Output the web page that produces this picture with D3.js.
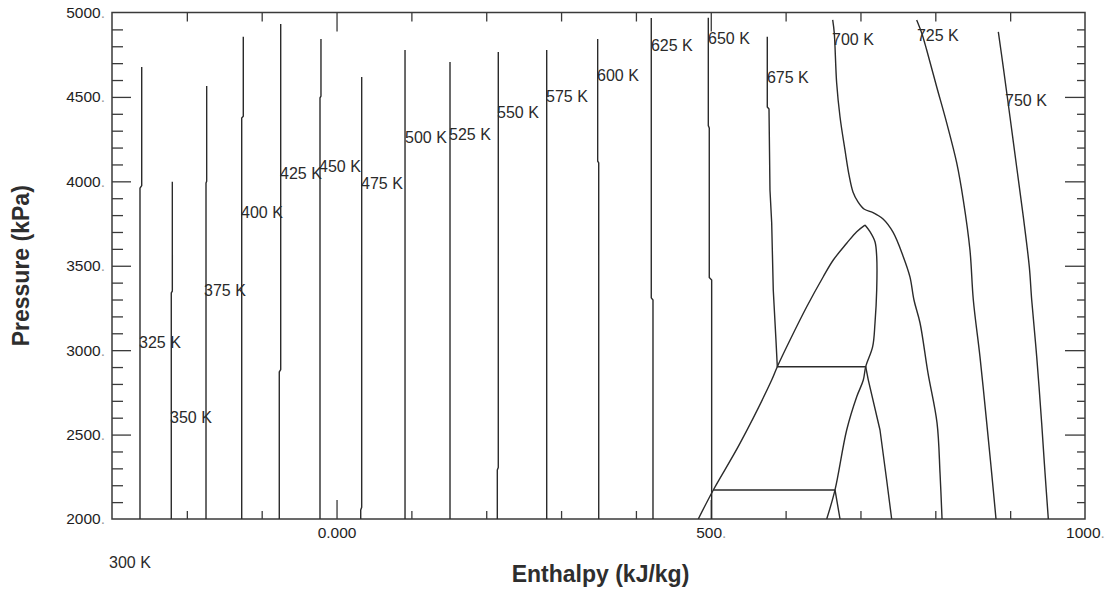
<!DOCTYPE html>
<html>
<head>
<meta charset="utf-8">
<script src="https://cdn.jsdelivr.net/npm/d3@7"></script>
<style>
  body { margin: 0; background: #fff; }
  svg { display: block; }
  text { font-family: "Liberation Sans", Arial, Helvetica, sans-serif; }
</style>
</head>
<body>
<svg id="chart" width="1113" height="592"></svg>
<script>
// ---- axes ----
const enthalpyDomain = [-300, 1000];
const pressureDomain = [2000, 5000];
const xTickValues = [0, 500, 1000];
const xTickLabels = ["0.000", "500.", "1000."];
const yTickValues = [2500, 3000, 3500, 4000, 4500, 5000, 2000];
const yTickLabels = ["2500.", "3000.", "3500.", "4000.", "4500.", "5000.", "2000."];

// ---- isotherms: [enthalpy kJ/kg, pressure kPa] ----
const t325 = [[-262.6, 2000], [-262.6, 3960], [-260.3, 3975], [-260.3, 4677]];
const t350 = [[-220.8, 2000], [-220.8, 3339], [-219.4, 3350], [-219.4, 3998]];
const t375 = [[-174.4, 2000], [-174.4, 3990], [-173.5, 4000], [-173.5, 4565]];
const t400 = [[-126.7, 2000], [-126.7, 4375], [-124.6, 4385], [-124.6, 4857]];
const t425 = [[-76.5, 2000], [-76.5, 2871], [-74.6, 2885], [-74.6, 4932]];
const t450 = [[-22.1, 2000], [-22.1, 4494], [-20.8, 4505], [-20.8, 4843]];
const t475 = [[32.3, 2000], [32.3, 2053], [33.6, 2070], [33.6, 4618]];
const t500 = [[91.5, 2000], [91.5, 4778]];
const t525 = [[151.6, 2000], [151.6, 4707]];
const t550 = [[214.8, 2000], [214.8, 2290], [216.1, 2305], [216.1, 4766]];
const t575 = [[280.8, 2000], [280.8, 4778]];
const t600 = [[350.3, 2000], [350.3, 4109], [348.9, 4120], [348.9, 4843]];
const t625 = [[422.8, 2000], [422.8, 3297], [420.5, 3310], [420.5, 4967]];
const t650 = [[501.2, 2000], [501.2, 3416], [498.0, 3430], [498.0, 4316], [496.7, 4330], [496.7, 4969]];
const t650TwoPhase = [[503.4, 2172], [666.0, 2172], [672.7, 2000]];
const t675 = [[575.5, 4857], [575.5, 4440], [577.8, 4428], [579.1, 3949], [581.4, 3753], [583.5, 3356],
              [587.1, 3060], [588.9, 2902], [707.0, 2902], [710.5, 2823], [726.1, 2527], [735.0, 2231], [741.7, 2000]];
const t700 = [[662.9, 4956], [665.0, 4879], [668.2, 4582], [672.7, 4381], [679.3, 4186], [684.7, 4038],
              [690.0, 3937], [696.7, 3878], [704.7, 3836], [716.8, 3815], [730.2, 3777], [743.5, 3699],
              [757.2, 3554], [766.2, 3433], [771.5, 3297], [779.6, 3161], [790.2, 2865], [802.3, 2569],
              [806.3, 2272], [809.0, 2000]];
const t725 = [[775.1, 4956], [781.8, 4879], [788.5, 4778], [801.9, 4559], [815.2, 4346], [828.6, 4109],
              [837.4, 3889], [846.3, 3593], [850.8, 3297], [859.7, 2960], [868.7, 2569], [875.3, 2272], [881.1, 2000]];
const t750 = [[884.2, 4885], [890.8, 4677], [899.8, 4381], [908.7, 4085], [917.6, 3789], [925.6, 3493],
              [928.8, 3297], [935.5, 2960], [942.1, 2569], [946.6, 2272], [951.0, 2000]];

// ---- saturation envelope ----
const bubbleCurve = [[483.3, 2000], [503.4, 2172], [539.0, 2448], [581.4, 2823], [588.9, 2902], [605.9, 3060],
                     [628.2, 3257], [650.3, 3435], [663.7, 3534], [681.6, 3633], [695.0, 3702], [706.0, 3741]];
const dewCurve = [[706.0, 3741], [712.7, 3702], [719.4, 3642], [721.7, 3554], [721.7, 3356], [719.4, 3159],
                  [716.3, 3021], [707.0, 2902], [703.8, 2823], [695.0, 2724], [681.6, 2527], [666.0, 2172], [654.9, 2000]];

// ---- isotherm labels (left edge of text, baseline) ----
const isoLabels = ["300 K", "325 K", "350 K", "375 K", "400 K", "425 K", "450 K", "475 K", "500 K", "525 K",
                   "550 K", "575 K", "600 K", "625 K", "650 K", "675 K", "700 K", "725 K", "750 K"];
const labelH = [-304, -263.9, -222.5, -177, -127.6, -75.5, -23.4, 32.7, 91.5, 150.3,
                214.4, 279.9, 348, 420.1, 496.3, 575.1, 662, 775.5, 893.1];
const labelP = [1710, 3013, 2569, 3321, 3783, 4014, 4055, 3955, 4227, 4245,
                4375, 4470, 4594, 4772, 4813, 4582, 4807, 4831, 4446];

const straightPaths = [t325, t350, t375, t400, t425, t450, t475, t500, t525, t550, t575,
                       t600, t625, t650, t650TwoPhase, t675];
const smoothPaths = [t700, t725, t750, bubbleCurve, dewCurve];

// ---- layout ----
const plot = { left: 112, right: 1085, top: 12.5, bottom: 519 };
const ink = "#2b2b2b";

const svg = d3.select("#chart");
const x = d3.scaleLinear().domain(enthalpyDomain).range([plot.left, plot.right]);
const y = d3.scaleLinear().domain(pressureDomain).range([plot.bottom, plot.top]);

svg.append("defs").append("clipPath").attr("id", "plot-clip")
  .append("rect")
  .attr("x", plot.left).attr("y", plot.top)
  .attr("width", plot.right - plot.left).attr("height", plot.bottom - plot.top);

// minor tick positions every 100 units
const xMinor = d3.range(-200, 1000, 100).filter(v => v % 500 !== 0);
const yMinor = d3.range(2100, 5000, 100).filter(v => v % 500 !== 0);
const xMajorInner = [0, 500];
const yMajorInner = [2500, 3000, 3500, 4000, 4500];

function tickLayer(g) {
  g.select(".domain").remove();
  g.selectAll(".tick line").attr("stroke", "#3a3a3a").attr("stroke-width", 1.3);
}

// bottom ticks (pointing up)
svg.append("g").attr("transform", `translate(0,${plot.bottom})`)
  .call(d3.axisBottom(x).tickValues(xMinor).tickSize(-8).tickFormat(""))
  .call(tickLayer);
svg.append("g").attr("transform", `translate(0,${plot.bottom})`)
  .call(d3.axisBottom(x).tickValues(xMajorInner).tickSize(-19).tickFormat(""))
  .call(tickLayer);
// top ticks (pointing down)
svg.append("g").attr("transform", `translate(0,${plot.top})`)
  .call(d3.axisTop(x).tickValues(xMinor).tickSize(-9).tickFormat(""))
  .call(tickLayer);
svg.append("g").attr("transform", `translate(0,${plot.top})`)
  .call(d3.axisTop(x).tickValues(xMajorInner).tickSize(-19).tickFormat(""))
  .call(tickLayer);
// left ticks (pointing right)
svg.append("g").attr("transform", `translate(${plot.left},0)`)
  .call(d3.axisLeft(y).tickValues(yMinor).tickSize(-11).tickFormat(""))
  .call(tickLayer);
svg.append("g").attr("transform", `translate(${plot.left},0)`)
  .call(d3.axisLeft(y).tickValues(yMajorInner).tickSize(-19).tickFormat(""))
  .call(tickLayer);
// right ticks (pointing left)
svg.append("g").attr("transform", `translate(${plot.right},0)`)
  .call(d3.axisRight(y).tickValues(yMinor).tickSize(-8).tickFormat(""))
  .call(tickLayer);
svg.append("g").attr("transform", `translate(${plot.right},0)`)
  .call(d3.axisRight(y).tickValues(yMajorInner).tickSize(-20).tickFormat(""))
  .call(tickLayer);

// tick labels: number in dark ink, trailing point in light grey
function splitLabel(sel, labels) {
  sel.selectAll(".tick text").each(function (d, i) {
    const t = d3.select(this).text("");
    const s = labels[i];
    const body = s.endsWith(".") ? s.slice(0, -1) : s;
    t.append("tspan").attr("fill", "#1e1e1e").text(body);
    if (s.endsWith(".")) t.append("tspan").attr("fill", "#9a9a9a").text(".");
  });
}

svg.append("g").attr("transform", `translate(${plot.left},0)`)
  .call(d3.axisLeft(y).tickValues(yTickValues).tickSize(0).tickPadding(7))
  .call(g => g.select(".domain").remove())
  .call(g => g.selectAll("text").attr("font-size", 15.5))
  .call(g => splitLabel(g, yTickLabels));

svg.append("g").attr("transform", `translate(0,${plot.bottom})`)
  .call(d3.axisBottom(x).tickValues(xTickValues).tickSize(0).tickPadding(8))
  .call(g => g.select(".domain").remove())
  .call(g => g.selectAll("text").attr("font-size", 15.5))
  .call(g => splitLabel(g, xTickLabels));

// frame
svg.append("rect")
  .attr("x", plot.left).attr("y", plot.top)
  .attr("width", plot.right - plot.left).attr("height", plot.bottom - plot.top)
  .attr("fill", "none").attr("stroke", "#3a3a3a").attr("stroke-width", 1.5);

// isotherm and envelope curves
const lineStraight = d3.line().x(d => x(d[0])).y(d => y(d[1]));
const lineSmooth = d3.line().x(d => x(d[0])).y(d => y(d[1])).curve(d3.curveCatmullRom.alpha(0.5));

const curves = svg.append("g").attr("clip-path", "url(#plot-clip)")
  .attr("fill", "none").attr("stroke", ink).attr("stroke-width", 1.4)
  .attr("stroke-linejoin", "round");

curves.selectAll("path.straight").data(straightPaths).join("path")
  .attr("class", "straight").attr("d", lineStraight);
curves.selectAll("path.smooth").data(smoothPaths).join("path")
  .attr("class", "smooth").attr("d", lineSmooth);

// isotherm labels
svg.append("g").selectAll("text").data(isoLabels).join("text")
  .attr("x", (d, i) => x(labelH[i]))
  .attr("y", (d, i) => y(labelP[i]))
  .attr("font-size", 16)
  .attr("fill", "#2a2a2a")
  .text(d => d);

// axis titles
svg.append("text")
  .attr("x", (plot.left + plot.right) / 2 + 2)
  .attr("y", 582)
  .attr("text-anchor", "middle")
  .attr("font-size", 23).attr("font-weight", "bold").attr("fill", "#2e2e2e")
  .text("Enthalpy (kJ/kg)");

svg.append("text")
  .attr("transform", `translate(28.5,${(plot.top + plot.bottom) / 2}) rotate(-90)`)
  .attr("text-anchor", "middle")
  .attr("font-size", 23).attr("font-weight", "bold").attr("fill", "#2e2e2e")
  .text("Pressure (kPa)");
</script>
</body>
</html>
